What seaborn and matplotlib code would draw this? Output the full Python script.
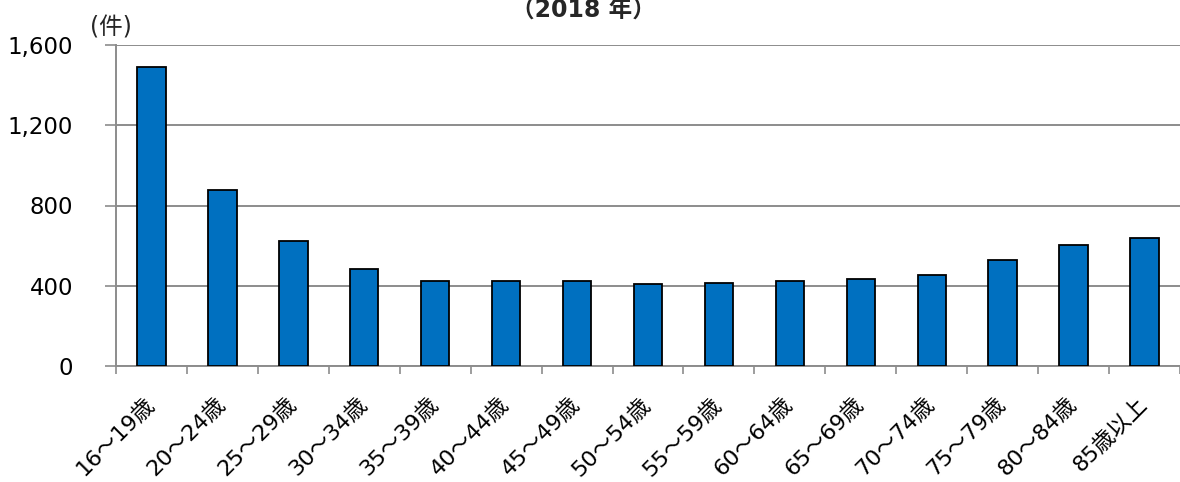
import matplotlib
matplotlib.use("Agg")
import matplotlib.pyplot as plt
import matplotlib.ticker as mticker
import matplotlib.transforms as mtransforms
import numpy as np
import pandas as pd
import seaborn as sns

# Accidents by driver age group, 2018
age_groups = ["16～19歳", "20～24歳", "25～29歳", "30～34歳", "35～39歳",
              "40～44歳", "45～49歳", "50～54歳", "55～59歳", "60～64歳",
              "65～69歳", "70～74歳", "75～79歳", "80～84歳", "85歳以上"]
counts = [1490, 875, 621, 481, 425, 425, 425, 407, 415, 425, 435, 453, 528, 605, 640]
y_ticks = [0, 400, 800, 1200, 1600]

sns.set_theme(style="white")
plt.rcParams["font.family"] = ["DejaVu Sans", "Noto Sans CJK JP"]

df = pd.DataFrame({"age": age_groups, "count": counts})

fig = plt.figure(figsize=(11.8, 4.82), dpi=100)
ax = fig.add_axes([116 / 1180, 1 - 366 / 482, 1 - 116 / 1180, (366 - 45) / 482])

sns.barplot(data=df, x="age", y="count", color="#0070C0", saturation=1,
            edgecolor="black", linewidth=1.3, width=0.4, ax=ax, zorder=3)

ax.set_xlim(-0.5, len(age_groups) - 0.5)
ax.set_ylim(0, 1600)
ax.set_yticks(y_ticks)
ax.yaxis.set_major_formatter(mticker.FuncFormatter(lambda v, p: f"{int(v):,}"))
ax.grid(axis="y", color="#8c8c8c", linewidth=1.4, zorder=0)
ax.set_axisbelow(True)

for side in ["top", "right"]:
    ax.spines[side].set_visible(False)
for side in ["left", "bottom"]:
    ax.spines[side].set_color("#8c8c8c")
    ax.spines[side].set_linewidth(1.4)

ax.set_xlabel("")
ax.set_ylabel("")

# category boundaries carry the tick marks
ax.set_xticks(np.arange(-0.5, len(age_groups), 1.0), minor=True)
ax.tick_params(axis="x", which="minor", length=6, width=1.2, color="#8c8c8c", bottom=True)
ax.tick_params(axis="x", which="major", length=0, pad=20)
ax.tick_params(axis="y", which="major", length=8, width=1.2, color="#8c8c8c", left=True,
               labelsize=16.5, pad=23)
ax.set_xticks(range(len(age_groups)))
ax.set_xticklabels(age_groups, rotation=45, ha="right", va="top",
                   rotation_mode="anchor", fontsize=16)
shift = mtransforms.ScaledTranslation(-8 / 100, 0, fig.dpi_scale_trans)
for lbl in ax.get_xticklabels():
    lbl.set_color("black")
    lbl.set_transform(lbl.get_transform() + shift)
for lbl in ax.get_yticklabels():
    lbl.set_color("black")

fig.text(111 / 1180, 1 - 27 / 482, "(件)", fontsize=17, ha="center", va="center")
fig.text(583 / 1180, 1 - 10 / 482, "（2018 年）", fontsize=17, fontweight="bold",
         ha="center", va="center")

fig.savefig("out.png", dpi=100)
